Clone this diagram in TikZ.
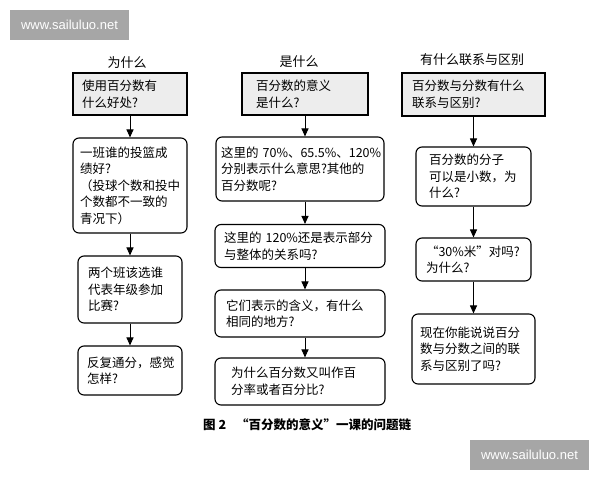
\documentclass[tikz,border=0pt]{standalone}
\usepackage{fontspec}
\setmainfont{Noto Sans CJK SC}
\newfontfamily\wmfont{Liberation Sans}
\usetikzlibrary{arrows.meta}
\definecolor{boxgray}{HTML}{EDEDED}
\definecolor{wmgray}{HTML}{A6A6A6}
\begin{document}
\begin{tikzpicture}[x=1pt,y=-1pt,
  qbox/.style={draw, line width=1.1pt, rounded corners=6pt, align=left,
    font=\fontsize{12.5}{16.5}\selectfont, inner ysep=2pt},
  hbox/.style={qbox, rounded corners=0pt, fill=boxgray},
  coltitle/.style={font=\fontsize{13}{15}\selectfont, inner sep=0pt},
  arr/.style={line width=1pt, -{Triangle[length=8pt,width=7pt]}},
  wm/.style={fill=wmgray, text=white, font=\wmfont\fontsize{13}{15}\selectfont,
    minimum width=119pt, minimum height=30pt, inner sep=0pt}]
\useasboundingbox (0,0) rectangle (600,480);
\fill[white] (0,0) rectangle (600,480);

% watermarks
\node[wm] (wm1) at (69.5,25) {www.sailuluo.net};
\node[wm] (wm2) at (529.5,454.5) {www.sailuluo.net};

% column titles
\node[coltitle] (t1) at (127,63) {为什么};
\node[coltitle] (t2) at (299,62) {是什么};
\node[coltitle] (t3) at (472,60) {有什么联系与区别};

% left column
\node[hbox, inner xsep=9pt, text width=96pt, minimum height=42pt] (L1) at (130,94) {使用百分数有\\什么好处?};
\node[qbox, inner xsep=7pt, text width=100pt, minimum height=95pt] (L2) at (130,185.5) {一班谁的投篮成\\绩好?\\（投球个数和投中\\个数都不一致的\\青况下）};
\node[qbox, inner xsep=10pt, text width=84pt, minimum height=67pt] (L3) at (130,289.5) {两个班该选谁\\代表年级参加\\比赛?};
\node[qbox, inner xsep=9pt, text width=86pt, minimum height=49pt] (L4) at (130,370.5) {反复通分，感觉\\怎样?};

% middle column
\node[hbox, inner xsep=14pt, text width=98pt, minimum height=42pt] (M1) at (305,94) {百分数的意义\\是什么?};
\node[qbox, inner xsep=5pt, text width=158pt, minimum height=64pt] (M2) at (300,169) {\mbox{这里的 70\%、65.5\%、120\%}\\分别表示什么意思?其他的\\百分数呢?};
\node[qbox, inner xsep=9pt, text width=152pt, minimum height=43pt] (M3) at (300,246) {这里的 120\%还是表示部分\\与整体的关系吗?};
\node[qbox, inner xsep=11pt, text width=148pt, minimum height=47pt] (M4) at (300,313.5) {它们表示的含义，有什么\\相同的地方?};
\node[qbox, inner xsep=16pt, text width=138pt, minimum height=47pt] (M5) at (300,381.5) {为什么百分数又叫作百\\分率或者百分比?};

% right column
\node[hbox, inner xsep=10pt, text width=123pt, minimum height=43pt] (R1) at (473.5,94.5) {百分数与分数有什么\\联系与区别?};
\node[qbox, inner xsep=13pt, text width=89pt, minimum height=59pt] (R2) at (473.5,176.5) {百分数的分子\\可以是小数，为\\什么?};
\node[qbox, inner xsep=10pt, text width=95pt, minimum height=43pt] (R3) at (473.5,259.5) {“30\%米”对吗?\\为什么?};
\node[qbox, inner xsep=8pt, text width=107pt, minimum height=70pt] (R4) at (473.5,349) {现在你能说说百分\\数与分数之间的联\\系与区别了吗?};

% arrows
\draw[arr] (L1.south) -- (L2.north);
\draw[arr] (L2.south) -- (L3.north);
\draw[arr] (L3.south) -- (L4.north);
\draw[arr] (M1.south) -- (M1.south |- M2.north);
\draw[arr] (M2.south -| M1.south) -- (M1.south |- M3.north);
\draw[arr] (M3.south -| M1.south) -- (M1.south |- M4.north);
\draw[arr] (M4.south -| M1.south) -- (M1.south |- M5.north);
\draw[arr] (R1.south) -- (R2.north);
\draw[arr] (R2.south) -- (R3.north);
\draw[arr] (R3.south) -- (R4.north);

% caption
\node[anchor=west, inner sep=0pt, font=\bfseries\fontsize{12.5}{15}\selectfont] (cap) at (203,425) {图 2\hspace{10pt}“百分数的意义”一课的问题链};
\end{tikzpicture}
\end{document}
